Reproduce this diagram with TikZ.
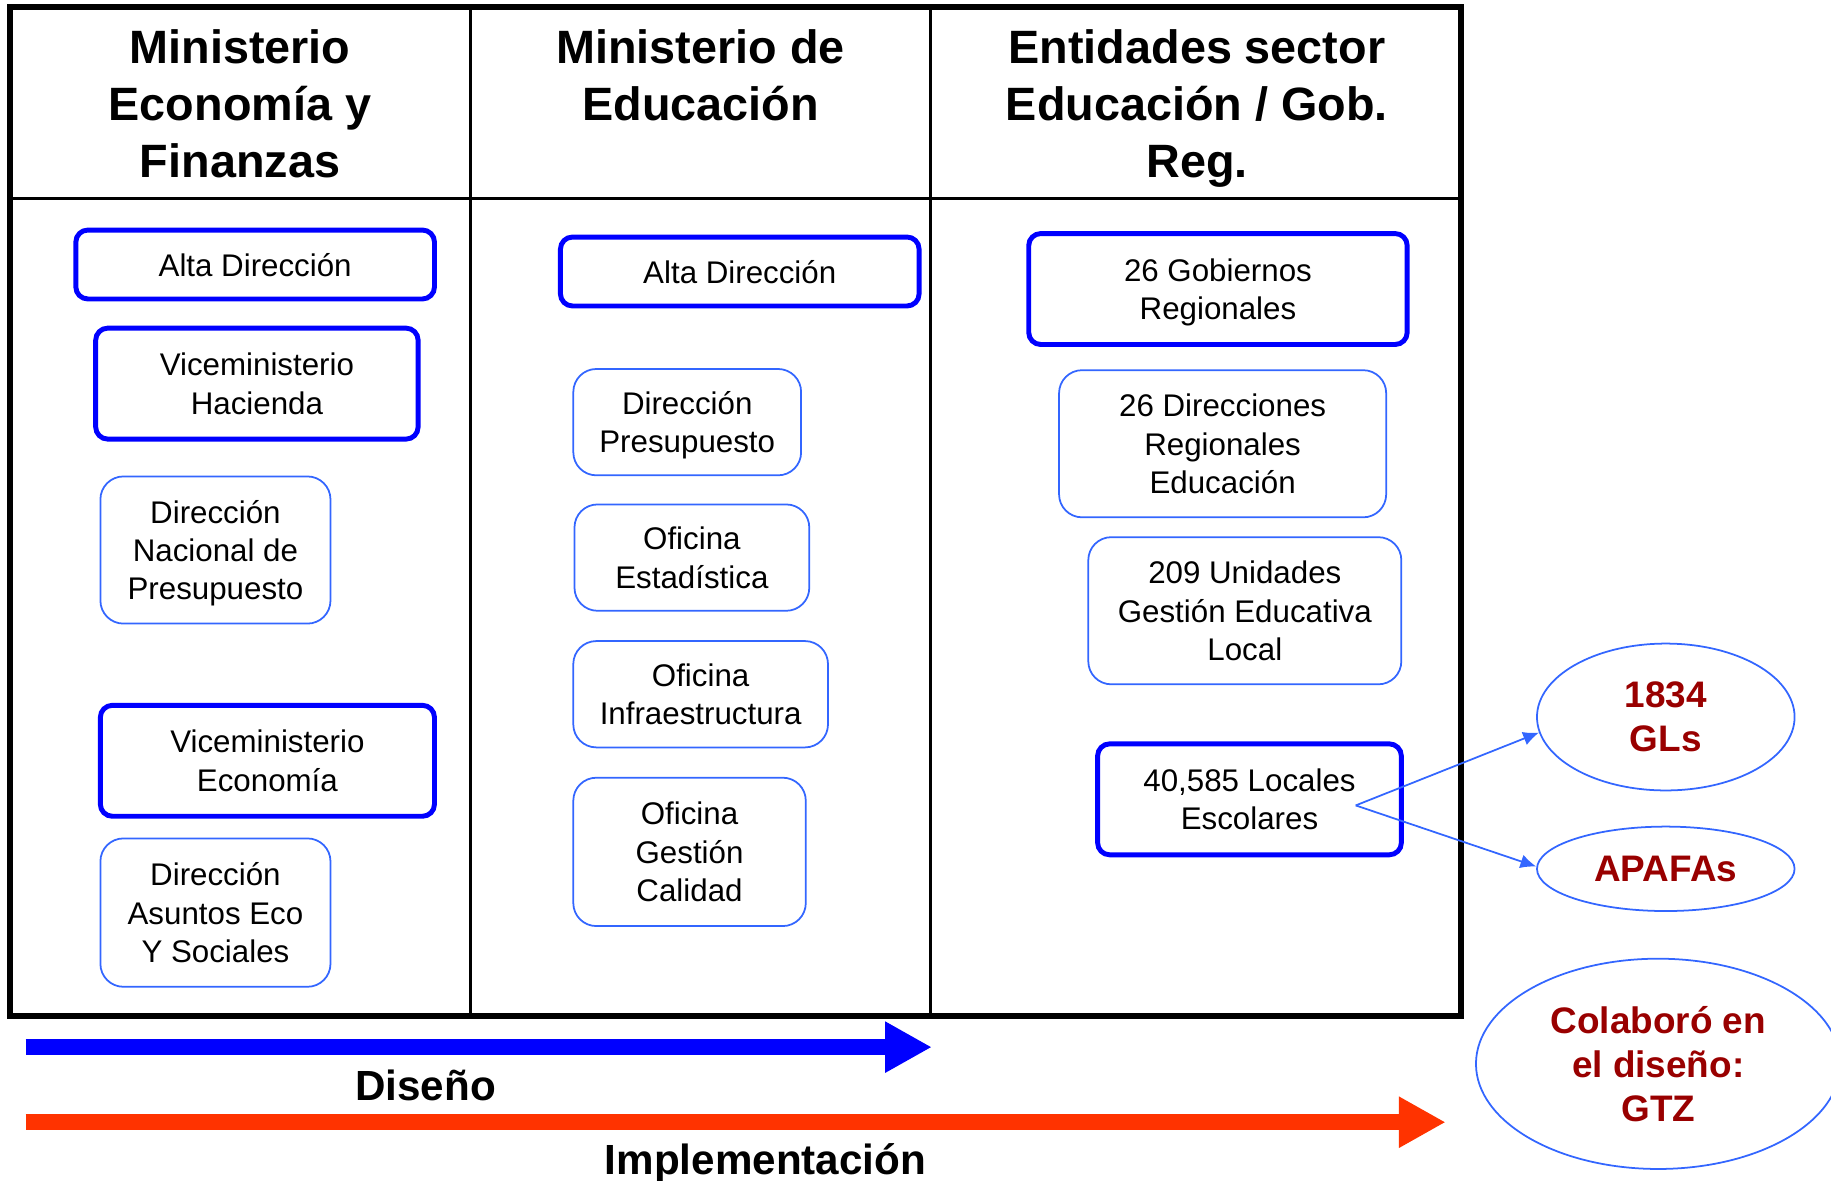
\documentclass[tikz,border=0pt]{standalone}
\usepackage{fontspec}
\setmainfont{Liberation Sans}
\usepackage{tikz}
\usetikzlibrary{shapes,arrows,arrows.meta,positioning}
\definecolor{lineblue}{RGB}{51,102,255}
\definecolor{darkred}{RGB}{153,0,0}
\definecolor{orangered}{RGB}{255,51,0}
\tikzstyle{header} = [anchor=north, inner sep=0pt, align=center,
    font=\fontsize{13.3}{16.1}\selectfont\bfseries]
\tikzstyle{thickbox} = [draw=blue, line width=1.4pt, rounded corners=0.12cm,
    align=center, inner sep=0pt, text depth=0pt, font=\fontsize{8.9}{10.9}\selectfont]
\tikzstyle{thinbox} = [draw=lineblue, line width=0.5pt, rounded corners=0.23cm,
    align=center, inner sep=0pt, text depth=0pt, font=\fontsize{8.9}{10.9}\selectfont]
\tikzstyle{bubble} = [ellipse, draw=lineblue, line width=0.5pt, inner sep=0pt,
    align=center, text=darkred, font=\fontsize{10.5}{12.5}\selectfont\bfseries]
\tikzstyle{phase} = [anchor=base, inner sep=0pt, font=\fontsize{12}{14}\selectfont\bfseries]
\tikzstyle{arrow} = [line width=0.5pt, draw=lineblue, -{Latex[length=4.5pt,width=4pt]}]
\tikzstyle{bigarrow} = [line width=0.16cm, -{Triangle[length=0.467cm,width=0.479cm]}]

\begin{document}
\begin{tikzpicture}[x=0.011677cm, y=-0.011677cm]
\useasboundingbox (0,0) rectangle (1568,1010.5);

% table
\draw[line width=1.7pt] (8.9,6) rectangle (1251.5,870);
\draw[line width=0.7pt] (8.9,170) -- (1251.5,170);
\draw[line width=0.7pt] (403,6) -- (403,870);
\draw[line width=0.7pt] (797,6) -- (797,870);

\node[header] (mef) at (205.5,25) {Ministerio\\Economía y\\Finanzas};
\node[header] (minedu) at (600,25) {Ministerio de\\Educación};
\node[header] (ent) at (1025,25) {Entidades sector\\Educación / Gob.\\Reg.};

\node[thickbox, minimum width=3.585cm, minimum height=0.689cm] (altaE) at (218.5,226.5) {Alta Dirección};
\node[thickbox, minimum width=3.223cm, minimum height=1.109cm] (vmH) at (220,328.5) {Viceministerio\\Hacienda};
\node[thinbox, minimum width=2.300cm, minimum height=1.471cm] (dnp) at (184.5,471) {Dirección\\Nacional de\\Presupuesto};
\node[thickbox, minimum width=3.340cm, minimum height=1.109cm] (vmE) at (229,651.5) {Viceministerio\\Economía};
\node[thinbox, minimum width=2.300cm, minimum height=1.483cm] (daes) at (184.5,781.5) {Dirección\\Asuntos Eco\\Y Sociales};

\node[thickbox, minimum width=3.585cm, minimum height=0.689cm] (altaM) at (633.5,232.5) {Alta Dirección};
\node[thinbox, minimum width=2.277cm, minimum height=1.063cm] (dpres) at (588.5,361.5) {Dirección\\Presupuesto};
\node[thinbox, minimum width=2.347cm, minimum height=1.063cm] (oest) at (592.5,477.5) {Oficina\\Estadística};
\node[thinbox, minimum width=2.546cm, minimum height=1.063cm] (oinf) at (600,594.5) {Oficina\\Infraestructura};
\node[thinbox, minimum width=2.324cm, minimum height=1.483cm] (ogc) at (590.5,729.5) {Oficina\\Gestión\\Calidad};

\node[thickbox, minimum width=3.783cm, minimum height=1.109cm] (gobreg) at (1043,247.5) {26 Gobiernos\\Regionales};
\node[thinbox, minimum width=3.270cm, minimum height=1.471cm] (dre) at (1047,380) {26 Direcciones\\Regionales\\Educación};
\node[thinbox, minimum width=3.129cm, minimum height=1.471cm] (ugel) at (1066,523) {209 Unidades\\Gestión Educativa\\Local};
\node[thickbox, minimum width=3.036cm, minimum height=1.109cm] (locales) at (1070,684.5) {40,585 Locales\\Escolares};

\node[bubble, minimum width=2.575cm, minimum height=1.468cm] (gl) at (1426.5,614) {1834\\GLs};
\node[bubble, minimum width=2.575cm, minimum height=0.844cm] (apafa) at (1426.5,744) {APAFAs};
\node[bubble, minimum width=3.643cm, minimum height=2.102cm] (gtz) at (1420,911) {Colaboró en\\el diseño:\\GTZ};

\coordinate (fork) at (1161,689.7);
\draw[arrow] (fork) -- (gl.187);
\draw[arrow] (fork) -- (apafa.179);

% phases
\coordinate (dstart) at (22,896.7);
\coordinate (dend) at (798,896.7);
\coordinate (istart) at (22,961);
\coordinate (iend) at (1238,961);
\draw[bigarrow, blue] (dstart) -- (dend);
\draw[bigarrow, orangered] (istart) -- (iend);
\node[phase] (dis) at (364.5,942) {Diseño};
\node[phase] (imp) at (655.6,1006) {Implementación};
\end{tikzpicture}
\end{document}
